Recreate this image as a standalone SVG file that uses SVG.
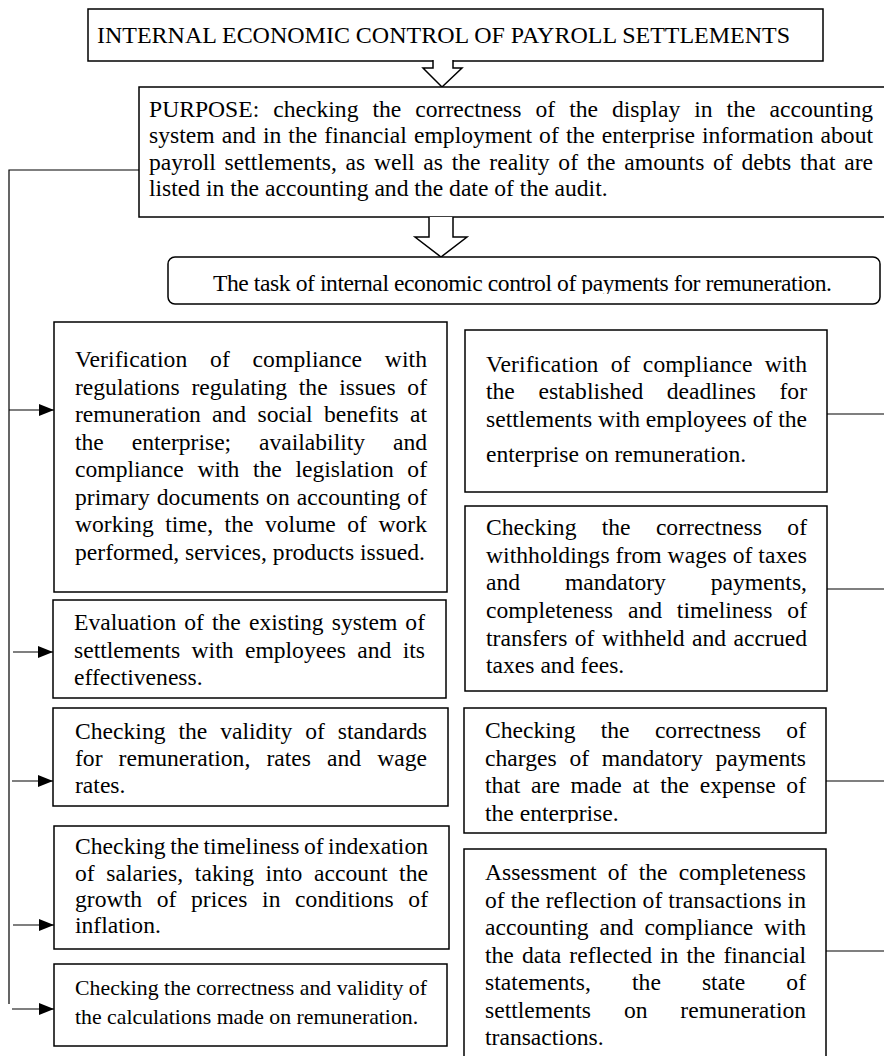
<svg xmlns="http://www.w3.org/2000/svg" width="884" height="1056" viewBox="0 0 884 1056">
<style>
.box{fill:#fff;stroke:#000;stroke-width:1.5}
.t{font-family:"Liberation Serif","Times New Roman",serif;font-size:23.6px;fill:#000}
.s{font-size:21.8px}
.ln{stroke:#000;stroke-width:1.2;fill:none}
.ha{fill:#fff;stroke:#000;stroke-width:1.5}
</style>
<defs>
<marker id="ah" viewBox="0 0 15 12" refX="15" refY="6" markerWidth="15" markerHeight="12" markerUnits="userSpaceOnUse" orient="auto">
<path d="M0,0 L15,6 L0,12 z" fill="#000"/>
</marker>
<clipPath id="cTask"><rect x="160" y="250" width="730" height="44"/></clipPath>
<clipPath id="cR3"><rect x="460" y="700" width="380" height="123"/></clipPath>
</defs>

<g id="connectors">
<polyline class="ln" points="139,170 9,170 9,1004"/>
<line class="ln" x1="9" y1="410" x2="54" y2="410" marker-end="url(#ah)"/>
<line class="ln" x1="13" y1="652" x2="53" y2="652" marker-end="url(#ah)"/>
<line class="ln" x1="12" y1="781" x2="53" y2="781" marker-end="url(#ah)"/>
<line class="ln" x1="13" y1="925" x2="54" y2="925" marker-end="url(#ah)"/>
<line class="ln" x1="12" y1="1009" x2="54" y2="1009" marker-end="url(#ah)"/>
<line class="ln" x1="827" y1="414" x2="884" y2="414"/>
<line class="ln" x1="827" y1="589" x2="884" y2="589"/>
<line class="ln" x1="826" y1="781" x2="884" y2="781"/>
<line class="ln" x1="826" y1="951" x2="884" y2="951"/>
</g>

<g id="title">
<rect class="box" x="88" y="9" width="735" height="52"/>
<text class="t" x="97" y="43" font-size="24.5" textLength="693" lengthAdjust="spacingAndGlyphs">INTERNAL ECONOMIC CONTROL OF PAYROLL SETTLEMENTS</text>
</g>

<g id="arrow1">
<polyline class="ha" points="433,60 433,68 423,68 442,87 462,68 453,68 453,60"/>
</g>

<g id="purpose">
<rect class="box" x="139" y="87" width="760" height="130"/>
<g class="t">
<text x="149" y="117" word-spacing="8.1" textLength="724" lengthAdjust="spacing">PURPOSE: checking the correctness of the display in the accounting</text>
<text x="149" y="143" word-spacing="1.2" textLength="724" lengthAdjust="spacing">system and in the financial employment of the enterprise information about</text>
<text x="149" y="170" word-spacing="2.8" textLength="724" lengthAdjust="spacing">payroll settlements, as well as the reality of the amounts of debts that are</text>
<text x="149" y="196">listed in the accounting and the date of the audit.</text>
</g>
</g>

<g id="arrow2">
<polyline class="ha" points="429,217 429,237 415,237 441,257 467,237 453,237 453,217"/>
</g>

<g id="task">
<rect class="box" x="168" y="257" width="712" height="47" rx="7"/>
<text class="t" x="213" y="291" font-size="22.5" textLength="619" lengthAdjust="spacing" clip-path="url(#cTask)">The task of internal economic control of payments for remuneration.</text>
</g>

<g id="left1">
<rect class="box" x="54" y="322" width="393" height="270"/>
<g class="t">
<text x="75" y="367" word-spacing="16.7" textLength="352" lengthAdjust="spacing">Verification of compliance with</text>
<text x="75" y="394.5" word-spacing="5.8" textLength="352" lengthAdjust="spacing">regulations regulating the issues of</text>
<text x="75" y="422" word-spacing="5.5" textLength="352" lengthAdjust="spacing">remuneration and social benefits at</text>
<text x="75" y="449.5" word-spacing="22" textLength="352" lengthAdjust="spacing">the enterprise; availability and</text>
<text x="75" y="477" word-spacing="7.7" textLength="352" lengthAdjust="spacing">compliance with the legislation of</text>
<text x="75" y="504.5" word-spacing="1" textLength="352" lengthAdjust="spacing">primary documents on accounting of</text>
<text x="75" y="532" word-spacing="5.6" textLength="352" lengthAdjust="spacing">working time, the volume of work</text>
<text x="75" y="559.5">performed, services, products issued.</text>
</g>
</g>

<g id="left2">
<rect class="box" x="53" y="600" width="393" height="98"/>
<g class="t">
<text x="74" y="630" word-spacing="2.2" textLength="351" lengthAdjust="spacing">Evaluation of the existing system of</text>
<text x="74" y="658" word-spacing="5.5" textLength="351" lengthAdjust="spacing">settlements with employees and its</text>
<text x="74" y="685">effectiveness.</text>
</g>
</g>

<g id="left3">
<rect class="box" x="53" y="708" width="395" height="98"/>
<g class="t">
<text x="75" y="739" word-spacing="7" textLength="352" lengthAdjust="spacing">Checking the validity of standards</text>
<text x="75" y="766" word-spacing="10.2" textLength="352" lengthAdjust="spacing">for remuneration, rates and wage</text>
<text x="75" y="793">rates.</text>
</g>
</g>

<g id="left4">
<rect class="box" x="54" y="826" width="395" height="123"/>
<g class="t">
<text x="75" y="854" word-spacing="-1.5" textLength="353" lengthAdjust="spacing">Checking the timeliness of indexation</text>
<text x="75" y="881" word-spacing="5.6" textLength="353" lengthAdjust="spacing">of salaries, taking into account the</text>
<text x="75" y="907" word-spacing="8.6" textLength="353" lengthAdjust="spacing">growth of prices in conditions of</text>
<text x="75" y="933">inflation.</text>
</g>
</g>

<g id="left5">
<rect class="box" x="54" y="964" width="393" height="82"/>
<g class="t s">
<text x="75" y="995" textLength="352" lengthAdjust="spacing">Checking the correctness and validity of</text>
<text x="75" y="1024">the calculations made on remuneration.</text>
</g>
</g>

<g id="right1">
<rect class="box" x="465" y="330" width="362" height="162"/>
<g class="t">
<text x="486" y="372" word-spacing="6.3" textLength="321" lengthAdjust="spacing">Verification of compliance with</text>
<text x="486" y="399" word-spacing="17.7" textLength="321" lengthAdjust="spacing">the established deadlines for</text>
<text x="486" y="427" textLength="321" lengthAdjust="spacing">settlements with employees of the</text>
<text x="486" y="462">enterprise on remuneration.</text>
</g>
</g>

<g id="right2">
<rect class="box" x="465" y="506" width="362" height="185"/>
<g class="t">
<text x="486" y="535" word-spacing="19.4" textLength="321" lengthAdjust="spacing">Checking the correctness of</text>
<text x="486" y="563" textLength="321" lengthAdjust="spacing">withholdings from wages of taxes</text>
<text x="486" y="590" word-spacing="39" textLength="321" lengthAdjust="spacing">and mandatory payments,</text>
<text x="486" y="618" word-spacing="9" textLength="321" lengthAdjust="spacing">completeness and timeliness of</text>
<text x="486" y="646" word-spacing="1.5" textLength="321" lengthAdjust="spacing">transfers of withheld and accrued</text>
<text x="486" y="673">taxes and fees.</text>
</g>
</g>

<g id="right3">
<rect class="box" x="464" y="708" width="362" height="125"/>
<g class="t">
<text x="485" y="738" word-spacing="19.4" textLength="321" lengthAdjust="spacing">Checking the correctness of</text>
<text x="485" y="766" word-spacing="6.7" textLength="321" lengthAdjust="spacing">charges of mandatory payments</text>
<text x="485" y="793" word-spacing="4.8" textLength="321" lengthAdjust="spacing">that are made at the expense of</text>
<text x="485" y="821" clip-path="url(#cR3)">the enterprise.</text>
</g>
</g>

<g id="right4">
<rect class="box" x="464" y="849" width="362" height="230"/>
<g class="t">
<text x="485" y="880" word-spacing="5.3" textLength="321" lengthAdjust="spacing">Assessment of the completeness</text>
<text x="485" y="908" textLength="321" lengthAdjust="spacing">of the reflection of transactions in</text>
<text x="485" y="935" word-spacing="5" textLength="321" lengthAdjust="spacing">accounting and compliance with</text>
<text x="485" y="963" word-spacing="2.2" textLength="321" lengthAdjust="spacing">the data reflected in the financial</text>
<text x="485" y="990" word-spacing="35" textLength="321" lengthAdjust="spacing">statements, the state of</text>
<text x="485" y="1018" word-spacing="27" textLength="321" lengthAdjust="spacing">settlements on remuneration</text>
<text x="485" y="1045">transactions.</text>
</g>
</g>
</svg>
